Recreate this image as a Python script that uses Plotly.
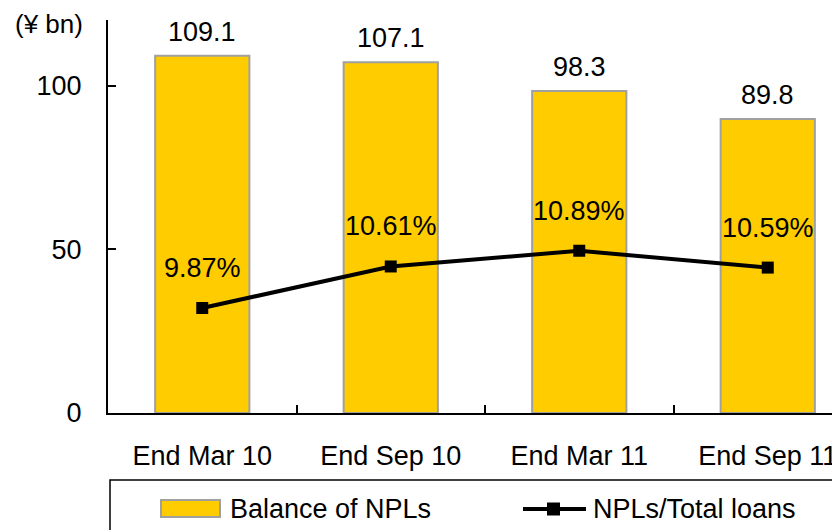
import plotly.graph_objects as go

categories = ["End Mar 10", "End Sep 10", "End Mar 11", "End Sep 11"]
npl_balance = [109.1, 107.1, 98.3, 89.8]
npl_ratio = [9.87, 10.61, 10.89, 10.59]
y_ticks = [0, 50, 100]
legend_names = ["Balance of NPLs", "NPLs/Total loans"]

FONT = "Liberation Sans"
FS = 27
BAR_COLOR = "#FFCC00"
BAR_EDGE = "#A0A0A0"

# the page puts the figure 8px in from the top-left corner, so lay out
# in screen pixels and shift back by that amount
W, H = 840, 530
OFF = 8
PLOT_L, PLOT_T, PLOT_B = 108, 20, 413      # screen pixels
CAT_PX = 188.5                              # screen px per category

L = PLOT_L - OFF
T = PLOT_T - OFF
B = H - (PLOT_B - OFF)
PW, PH = W - L, H - T - B


def px(x):
    return (x - OFF - L) / PW


def py(y):
    return (H - B - (y - OFF)) / PH


fig = go.Figure()

fig.add_trace(go.Bar(
    x=categories, y=npl_balance,
    name=legend_names[0],
    marker={"color": BAR_COLOR, "line": {"color": BAR_EDGE, "width": 2}},
    width=0.5,
    showlegend=False,
))

fig.add_trace(go.Scatter(
    x=categories, y=npl_ratio,
    name=legend_names[1],
    yaxis="y2",
    mode="lines+markers",
    line={"color": "black", "width": 4},
    marker={"color": "black", "symbol": "square", "size": 12},
    showlegend=False,
))

# value labels
for c, v in zip(categories, npl_balance):
    fig.add_annotation(x=c, y=v, yref="y", text=f"{v:.1f}", showarrow=False,
                       yanchor="middle", yshift=24, font={"size": FS})
for c, v in zip(categories, npl_ratio):
    fig.add_annotation(x=c, y=v, yref="y2", text=f"{v:.2f}%", showarrow=False,
                       yanchor="middle", yshift=40, font={"size": FS})

# unit label (as high as the page allows)
fig.add_annotation(x=px(14), y=py(8), xref="paper", yref="paper", text="(¥ bn)",
                   showarrow=False, xanchor="left", yanchor="top",
                   borderpad=0, font={"size": 26})

# legend drawn by hand (box runs off the right/bottom edge like the original)
fig.add_shape(type="rect", xref="paper", yref="paper",
              x0=px(110), x1=px(870), y0=py(480), y1=py(570),
              line={"color": "black", "width": 1.5}, fillcolor="rgba(0,0,0,0)")
fig.add_shape(type="rect", xref="paper", yref="paper",
              x0=px(161), x1=px(220), y0=py(500), y1=py(517),
              line={"color": BAR_EDGE, "width": 2}, fillcolor=BAR_COLOR)
fig.add_annotation(x=px(228), y=py(509), xref="paper", yref="paper",
                   text=legend_names[0], showarrow=False,
                   xanchor="left", yanchor="middle", font={"size": FS})
fig.add_shape(type="line", xref="paper", yref="paper",
              x0=px(523), x1=px(586), y0=py(509), y1=py(509),
              line={"color": "black", "width": 4})
fig.add_shape(type="rect", xref="paper", yref="paper",
              x0=px(547), x1=px(560), y0=py(502.5), y1=py(515.5),
              line={"color": "black", "width": 0}, fillcolor="black")
fig.add_annotation(x=px(591), y=py(509), xref="paper", yref="paper",
                   text=legend_names[1], showarrow=False,
                   xanchor="left", yanchor="middle", font={"size": FS})

fig.update_layout(
    width=W, height=H,
    margin={"l": L, "r": 0, "t": T, "b": B, "autoexpand": False},
    paper_bgcolor="white", plot_bgcolor="white",
    font={"family": FONT, "size": FS, "color": "black"},
    showlegend=False,
    xaxis={
        "range": [-0.5, -0.5 + PW / CAT_PX],
        "showline": True, "linecolor": "black", "linewidth": 2,
        "ticks": "inside", "tickson": "boundaries", "ticklen": 8,
        "tickcolor": "black", "tickwidth": 2,
        "showgrid": False, "automargin": False,
        "ticklabelstandoff": 18,
    },
    yaxis={
        "range": [0, 120],
        "tickvals": y_ticks,
        "showline": True, "linecolor": "black", "linewidth": 2,
        "ticks": "inside", "ticklen": 8, "tickcolor": "black", "tickwidth": 2,
        "showgrid": False, "zeroline": False, "automargin": False,
        "ticklabelstandoff": 19,
    },
    yaxis2={
        "range": [8, 15],
        "overlaying": "y", "side": "right",
        "visible": False,
    },
)

fig.write_html("out.html")
